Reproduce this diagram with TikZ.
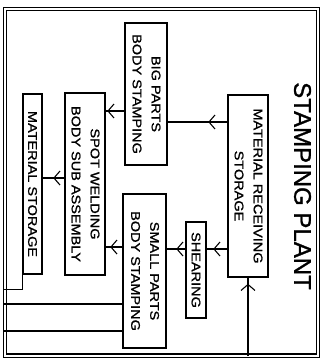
\documentclass[tikz,border=0pt]{standalone}
\usepackage{fontspec}
\setmainfont{Liberation Sans}
\newfontfamily\boxfont[FakeStretch=1.15,FakeBold=1.2]{Liberation Sans}
\newfontfamily\titlefont[FakeBold=1.2]{Liberation Sans}
\usetikzlibrary{arrows.meta,decorations.markings}
\begin{document}
\begin{tikzpicture}[x=1pt,y=-1pt,
  stbox/.style={draw, line width=1.5pt, inner sep=0pt,
    font=\boxfont\fontsize{12.6}{19}\selectfont},
  conn/.style={line width=1.3pt},
  midarrow/.style={postaction={decorate}, decoration={markings,
    mark=at position #1 with {\arrow[line width=1.1pt]{Straight Barb[length=6pt,width=14pt]}}}}]
\useasboundingbox (0,0) rectangle (331,361);
% frame
\node[draw, double, double distance=2pt, line width=1.2pt, inner sep=0pt,
  minimum width=313pt, minimum height=346.5pt] (frame) at (161.5,182.25) {};
\node[font=\titlefont\fontsize{24}{28}\selectfont, rotate=-90] (title) at (302.5,186) {STAMPING PLANT};
% boxes
\node[stbox, minimum width=42pt, minimum height=142pt] (big) at (146,94)
  {\rotatebox{-90}{\begin{tabular}{@{}c@{}}BIG PARTS\\BODY STAMPING\end{tabular}}};
\node[stbox, minimum width=40pt, minimum height=182pt] (recv) at (248,186)
  {\rotatebox{-90}{\begin{tabular}{@{}c@{}}MATERIAL RECEIVING\\STORAGE\end{tabular}}};
\node[stbox, minimum width=20pt, minimum height=96pt] (shear) at (196,270)
  {\rotatebox{-90}{SHEARING}};
\node[stbox, minimum width=43pt, minimum height=154pt] (small) at (144.5,271)
  {\rotatebox{-90}{\begin{tabular}{@{}c@{}}SMALL PARTS\\BODY STAMPING\end{tabular}}};
\node[stbox, minimum width=40pt, minimum height=182pt] (weld) at (85,184)
  {\rotatebox{-90}{\begin{tabular}{@{}c@{}}SPOT WELDING\\BODY SUB ASSEMBLY\end{tabular}}};
\node[stbox, minimum width=19pt, minimum height=180pt] (store) at (32.5,184)
  {\rotatebox{-90}{MATERIAL STORAGE}};
% connectors
\draw[conn, midarrow=19pt] (recv.west |- 0,122) -- (big.east |- 0,122);
\draw[conn, midarrow=17pt] (big.west |- 0,111) -- (weld.east |- 0,111);
\draw[conn, midarrow=11pt] (weld.west |- 0,178) -- (store.east |- 0,178);
\draw[conn, midarrow=14pt] (recv.west |- 0,249) -- (shear.east |- 0,249);
\draw[conn, midarrow=9pt] (shear.west |- 0,249) -- (small.east |- 0,249);
\draw[conn, midarrow=12pt] (small.west |- 0,247) -- (weld.east |- 0,247);
\draw[conn, midarrow=-6pt] (recv.south |- frame.south) -- (recv.south);
\draw[conn] (small.west |- 0,304) -- (frame.west |- 0,304);
\draw[conn] (small.west |- 0,331) -- (frame.west |- 0,331);
\draw[conn] (store.south west) -- ++(0,15) coordinate (storecorner) -- (frame.west |- storecorner);
\end{tikzpicture}
\end{document}
